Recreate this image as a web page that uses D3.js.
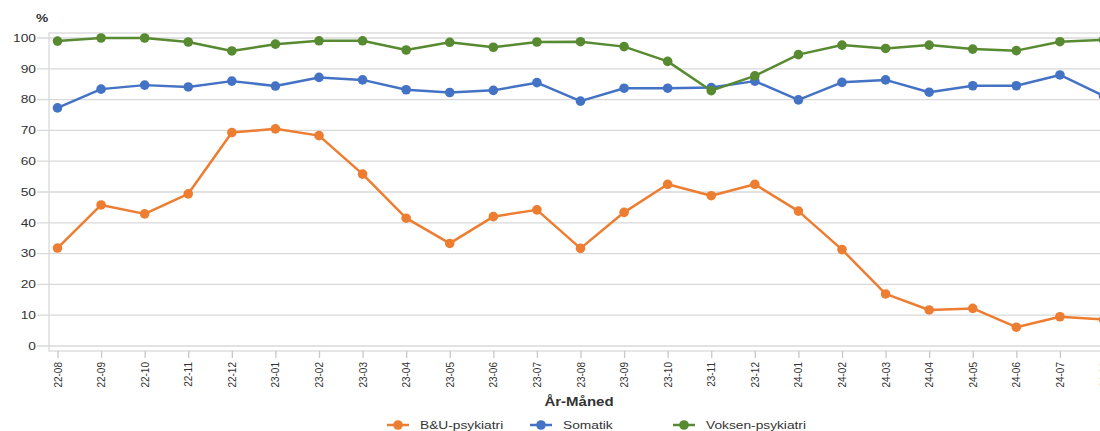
<!DOCTYPE html>
<html>
<head>
<meta charset="utf-8">
<script src="https://cdn.jsdelivr.net/npm/d3@7"></script>
<style>
  body { margin: 0; background: #fff; }
  svg { display: block; font-family: 'Liberation Sans', Arial, sans-serif; }
</style>
</head>
<body>
<svg id="chart" width="1100" height="431"></svg>
<script>
const months = ['22-08', '22-09', '22-10', '22-11', '22-12', '23-01', '23-02', '23-03', '23-04',
  '23-05', '23-06', '23-07', '23-08', '23-09', '23-10', '23-11', '23-12', '24-01', '24-02',
  '24-03', '24-04', '24-05', '24-06', '24-07', '24-08'];

const buPsykiatri = [31.8, 45.8, 42.9, 49.4, 69.3, 70.5, 68.3, 55.8, 41.5, 33.3, 42.0, 44.2, 31.7,
  43.4, 52.5, 48.8, 52.5, 43.8, 31.3, 16.9, 11.7, 12.2, 6.1, 9.5, 8.6];
const somatik = [77.3, 83.4, 84.7, 84.1, 86.0, 84.4, 87.2, 86.4, 83.2, 82.3, 83.0, 85.5, 79.5,
  83.7, 83.7, 83.9, 86.0, 79.9, 85.6, 86.4, 82.4, 84.5, 84.5, 88.0, 81.2];
const voksenPsykiatri = [99.0, 100, 100, 98.7, 95.8, 98.0, 99.1, 99.1, 96.1, 98.6, 97.0, 98.7, 98.8,
  97.2, 92.4, 82.9, 87.7, 94.6, 97.7, 96.6, 97.7, 96.4, 95.9, 98.8, 99.4];

const yTicks = [0, 10, 20, 30, 40, 50, 60, 70, 80, 90, 100];

const series = [
  { name: 'B&U-psykiatri', values: buPsykiatri, color: '#ED7D31' },
  { name: 'Somatik', values: somatik, color: '#4472C4' },
  { name: 'Voksen-psykiatri', values: voksenPsykiatri, color: '#578A31' }
];

const svg = d3.select('#chart');
const frame = { left: 49, top: 33, bottom: 351, right: 1110 };
const stretch = 1.25; // the source image is a bit wider than tall

const x = d3.scalePoint().domain(months).range([57.5, 1103.5]);
const y = d3.scaleLinear().domain([0, 100]).range([346, 38]);

const gridColor = '#d9d9d9';
const textColor = '#333';

// gridlines + left ticks
svg.append('g')
  .selectAll('line')
  .data(yTicks)
  .enter()
  .append('line')
  .attr('x1', 37)
  .attr('x2', frame.right)
  .attr('y1', d => y(d))
  .attr('y2', d => y(d))
  .attr('stroke', gridColor)
  .attr('stroke-width', 1.3);

// frame
svg.append('rect')
  .attr('x', frame.left)
  .attr('y', frame.top)
  .attr('width', frame.right - frame.left)
  .attr('height', frame.bottom - frame.top)
  .attr('fill', 'none')
  .attr('stroke', gridColor)
  .attr('stroke-width', 1.3);

// y labels
svg.append('g')
  .selectAll('text')
  .data(yTicks)
  .enter()
  .append('text')
  .attr('transform', d => `translate(36,${y(d)}) scale(${stretch},1)`)
  .attr('dy', '0.35em')
  .attr('text-anchor', 'end')
  .attr('font-size', 11)
  .attr('fill', textColor)
  .text(d => d);

svg.append('text')
  .attr('transform', `translate(42,22) scale(${stretch},1)`)
  .attr('text-anchor', 'middle')
  .attr('font-size', 11)
  .attr('font-weight', 'bold')
  .attr('fill', textColor)
  .text('%');

// x axis ticks and labels
const xAxis = svg.append('g')
  .attr('transform', `translate(0,${frame.bottom})`)
  .call(d3.axisBottom(x).tickSize(7).tickSizeOuter(0).tickPadding(4));
xAxis.select('.domain').remove();
xAxis.selectAll('.tick line').attr('stroke', '#c8c8c8').attr('stroke-width', 1.3);
xAxis.selectAll('.tick text')
  .attr('font-size', 10)
  .attr('font-family', "'Liberation Sans', Arial, sans-serif")
  .attr('fill', textColor)
  .style('text-anchor', 'end')
  .attr('transform', 'rotate(-90)')
  .attr('x', -11)
  .attr('y', 0)
  .attr('dy', '0.35em');

svg.append('text')
  .attr('transform', `translate(579,406) scale(${stretch},1)`)
  .attr('text-anchor', 'middle')
  .attr('font-size', 12)
  .attr('font-weight', 'bold')
  .attr('fill', textColor)
  .text('År-Måned');

// lines
const line = d3.line()
  .x((d, i) => x(months[i]))
  .y(d => y(d));

series.forEach(s => {
  const g = svg.append('g');
  g.append('path')
    .datum(s.values)
    .attr('d', line)
    .attr('fill', 'none')
    .attr('stroke', s.color)
    .attr('stroke-width', 2.5)
    .attr('stroke-linejoin', 'round');
  g.selectAll('circle')
    .data(s.values)
    .enter()
    .append('circle')
    .attr('cx', (d, i) => x(months[i]))
    .attr('cy', d => y(d))
    .attr('r', 4.8)
    .attr('fill', s.color);
});

// legend
const legendX = [387, 530, 673];
const legend = svg.append('g')
  .selectAll('g')
  .data(series)
  .enter()
  .append('g')
  .attr('transform', (d, i) => `translate(${legendX[i]},425)`);
legend.append('line')
  .attr('x1', 0).attr('x2', 22)
  .attr('stroke', d => d.color)
  .attr('stroke-width', 2.5);
legend.append('circle')
  .attr('cx', 11)
  .attr('r', 4.8)
  .attr('fill', d => d.color);
legend.append('text')
  .attr('transform', `translate(33,0) scale(${stretch},1)`)
  .attr('dy', '0.35em')
  .attr('font-size', 11)
  .attr('fill', textColor)
  .text(d => d.name);
</script>
</body>
</html>
